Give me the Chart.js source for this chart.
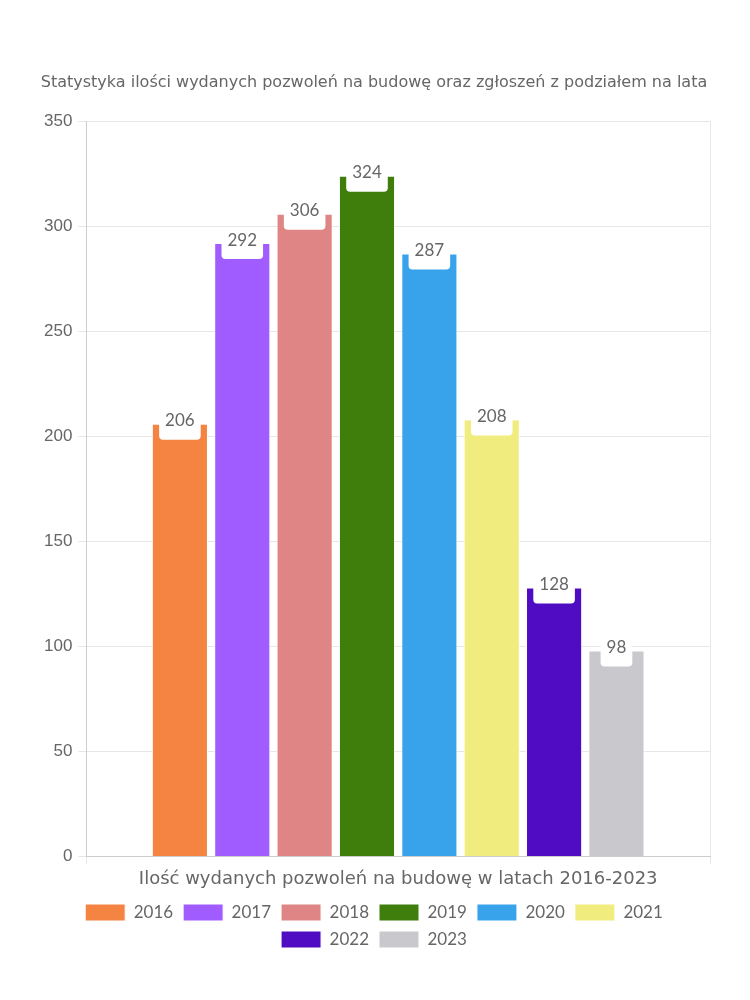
<!DOCTYPE html>
<html><head><meta charset="utf-8">
<script src="https://cdn.jsdelivr.net/npm/chart.js@4"></script>
<style>html,body{margin:0;padding:0;background:#fff}#wrap{width:750px;height:1000px}</style>
</head><body><div id="wrap"><canvas id="c" width="750" height="1000"></canvas></div>
<script>
const categories = ['Ilość wydanych pozwoleń na budowę w latach 2016-2023'];
const years = ['2016','2017','2018','2019','2020','2021','2022','2023'];
const values = [206, 292, 306, 324, 287, 208, 128, 98];
const colors = ['#F58442','#A05CFF','#E08585','#3F7D0D','#38A3EA','#F0EC7E','#500CC2','#C9C9CD'];
const titleText = 'Statystyka ilości wydanych pozwoleń na budowę oraz zgłoszeń z podziałem na lata';

const textFont = 'Lato, "Noto Sans", sans-serif';
const wideFont = '"DejaVu Sans", "Noto Sans", sans-serif';

const labelPlugin = {
  id: 'valueLabels',
  afterDatasetsDraw(chart) {
    const ctx = chart.ctx;
    ctx.save();
    ctx.font = '17px ' + textFont;
    ctx.textAlign = 'center';
    ctx.textBaseline = 'middle';
    chart.data.datasets.forEach((ds, i) => {
      const meta = chart.getDatasetMeta(i);
      meta.data.forEach((bar, j) => {
        const txt = String(ds.data[j]);
        const w = ctx.measureText(txt).width + 12;
        const x = bar.x, y = bar.y;
        const top = y - 8, h = 24;
        ctx.fillStyle = '#ffffff';
        ctx.beginPath();
        ctx.roundRect(x - w/2, top, w, h, 4);
        ctx.fill();
        ctx.fillStyle = '#666666';
        ctx.fillText(txt, x, y - 3);
      });
    });
    ctx.restore();
  }
};

new Chart(document.getElementById('c'), {
  type: 'bar',
  data: {
    labels: categories,
    datasets: years.map((y, i) => ({
      label: y,
      data: [values[i]],
      backgroundColor: colors[i],
      borderColor: '#ffffff',
      borderWidth: 1,
      barPercentage: 0.9,
      categoryPercentage: 0.8
    }))
  },
  options: {
    responsive: false,
    animation: false,
    layout: { padding: { top: 73, left: 38, right: 40, bottom: 42 } },
    plugins: {
      title: { display: true, text: titleText, color: '#666', font: { family: wideFont, size: 16, weight: 'normal' }, padding: { top: 0, bottom: 29 } },
      legend: { position: 'bottom', labels: { color: '#666', font: { family: textFont, size: 17 }, boxWidth: 40, boxHeight: 17, padding: 10 } },
      tooltip: { enabled: false }
    },
    scales: {
      x: {
        grid: { color: '#e6e6e6', tickLength: 8 },
        border: { color: '#cccccc' },
        ticks: { color: '#666', font: { family: wideFont, size: 18 }, padding: 4 }
      },
      y: {
        min: 0, max: 350,
        ticks: { stepSize: 50, color: '#666', font: { family: '"Liberation Sans", Arial, sans-serif', size: 17 }, padding: 6 },
        grid: { color: '#e6e6e6', tickLength: 8 },
        border: { color: '#cccccc' }
      }
    }
  },
  plugins: [labelPlugin]
});
</script></body></html>
